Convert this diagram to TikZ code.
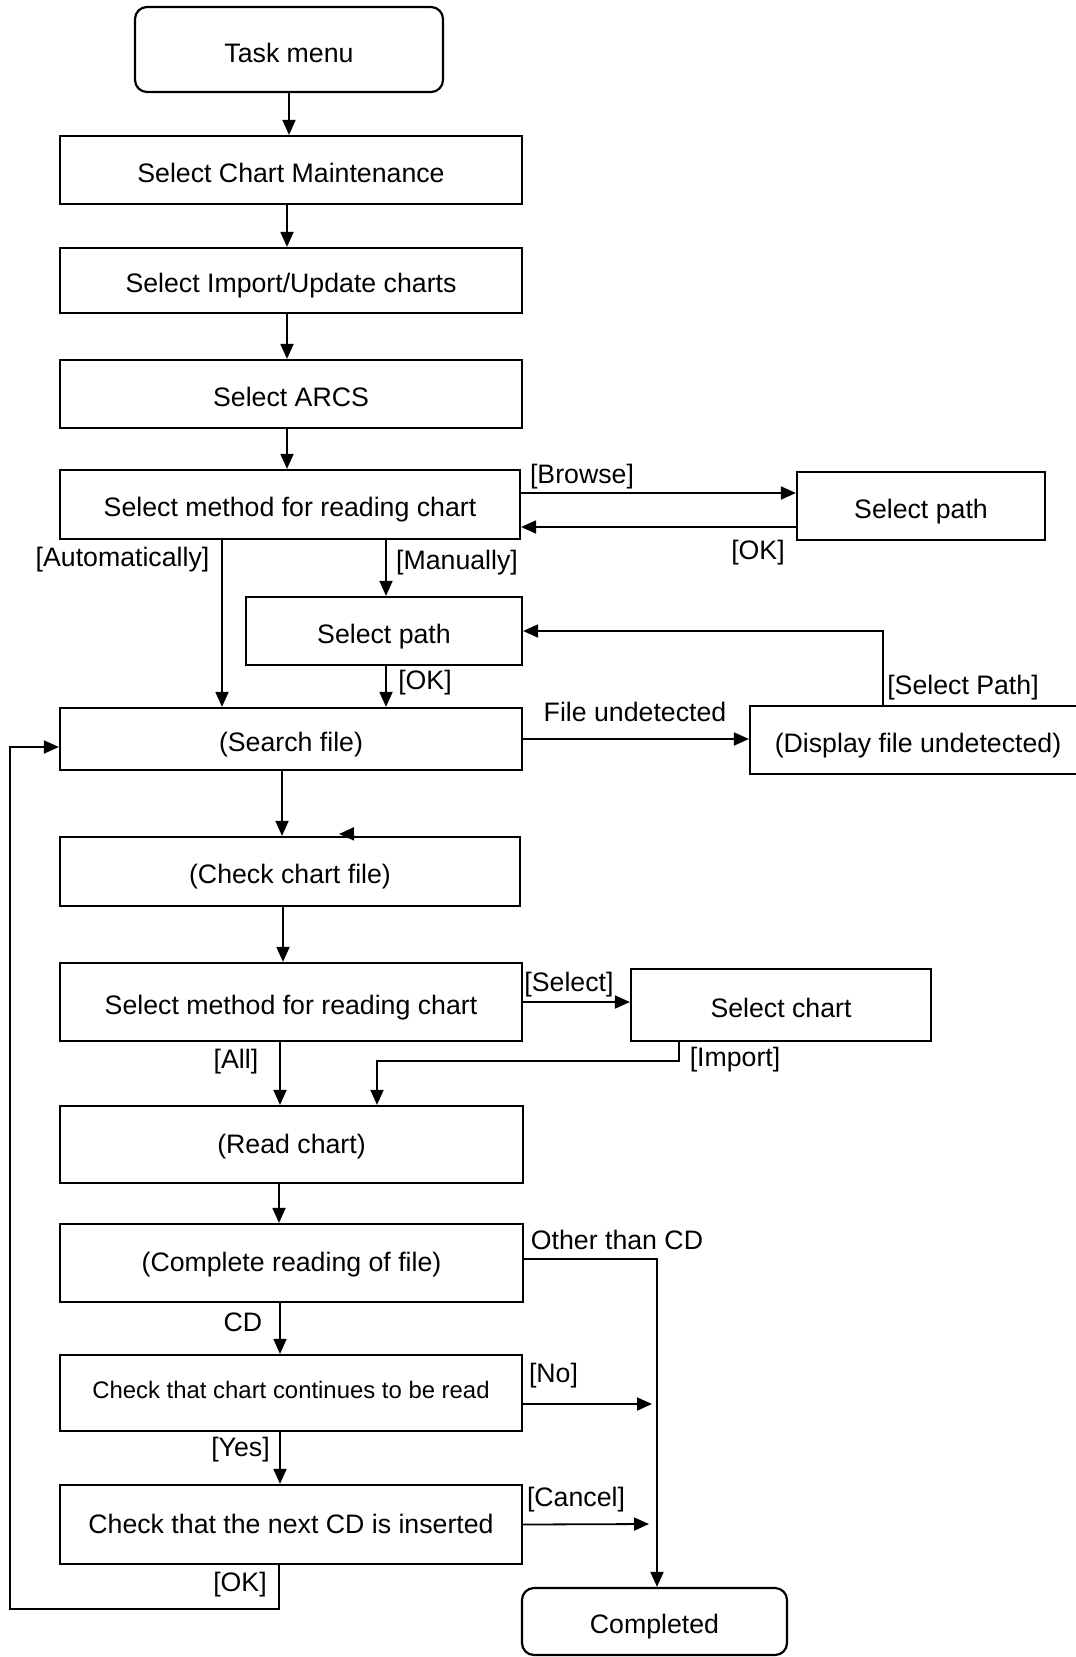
\documentclass[tikz,border=0pt]{standalone}
\usepackage{fontspec}
\setmainfont{Liberation Sans}
\usetikzlibrary{arrows.meta}

\begin{document}
\begin{tikzpicture}[x=1pt,y=-1pt,
  box/.style={draw,line width=2.2pt,inner sep=0pt,minimum width=462pt,text height=25.4pt,text depth=1.3pt,font=\fontsize{26.7}{32}\selectfont},
  lbl/.style={inner sep=0pt,font=\fontsize{26.7}{32}\selectfont},
  arr/.style={line width=1.8pt,-{Triangle[length=15pt,width=13pt]}}]
\clip (0,0) rectangle (1076,1657);

% main column
\node (tm) at (289,49.5) [box,rounded corners=12pt,minimum width=308pt,minimum height=85pt,text height=28pt] {Task menu};
\node (scm) at (291,170) [box,minimum height=68pt] {Select Chart Maintenance};
\node (siu) at (291,280.5) [box,minimum height=65pt] {Select Import/Update charts};
\node (sarcs) at (291,394) [box,minimum height=68pt] {Select ARCS};
\node (smr) at (290,504.5) [box,minimum width=460pt,minimum height=69pt] {Select method for reading chart};
\node (spb) at (921,506) [box,minimum width=248pt,minimum height=68pt] {Select path};
\node (spm) at (384,631) [box,minimum width=276pt,minimum height=68pt] {Select path};
\node (sf) at (291,739) [box,minimum height=62pt] {(Search file)};
\node (dfu) at (918,740) [box,minimum width=336pt,minimum height=68pt] {(Display file undetected)};
\node (ccf) at (290,871.5) [box,minimum width=460pt,minimum height=69pt] {(Check chart file)};
\node (smr2) at (291,1002) [box,minimum height=78pt] {Select method for reading chart};
\node (sc) at (781,1005) [box,minimum width=300pt,minimum height=72pt] {Select chart};
\node (rc) at (291.5,1144.5) [box,minimum width=463pt,minimum height=77pt,text height=19pt] {(Read chart)};
\node (crf) at (291.5,1263) [box,minimum width=463pt,minimum height=78pt,text height=19pt] {(Complete reading of file)};
\node (ccr) at (291,1393) [box,minimum height=76pt,text height=12.4pt,font=\fontsize{23.9}{29}\selectfont] {Check that chart continues to be read};
\node (cnc) at (291,1524.5) [box,minimum height=79pt,text height=19pt] {Check that the next CD is inserted};
\node (done) at (654.5,1621.5) [box,rounded corners=12pt,minimum width=265pt,minimum height=67pt] {Completed};

% free ends
\coordinate (no) at (652,1404);
\coordinate (cancel) at (649,1524);
\coordinate (back) at (10,1609);
\coordinate (stray) at (339,834);

% connectors
\draw [arr] (tm.south) -- (tm.south |- scm.north);
\draw [arr] ([xshift=-4pt]scm.south) -- ([xshift=-4pt]siu.north);
\draw [arr] ([xshift=-4pt]siu.south) -- ([xshift=-4pt]sarcs.north);
\draw [arr] ([xshift=-4pt]sarcs.south) -- ([xshift=-3pt]smr.north);
\draw [arr] ([yshift=11.5pt]smr.east) -- ([yshift=13pt]spb.west);
\draw [arr] ([yshift=-21pt]spb.west) -- ([yshift=-22.5pt]smr.east);
\draw [arr] ([xshift=-68pt]smr.south) -- ([xshift=-69pt]sf.north);
\draw [arr] ([xshift=96pt]smr.south) -- ([xshift=2pt]spm.north);
\draw [arr] ([xshift=2pt]spm.south) -- ([xshift=95pt]sf.north);
\draw [arr] (sf.east) -- (sf.east -| dfu.west);
\draw [arr] ([xshift=-35pt]dfu.north) |- (spm.east);
\draw [arr] ([xshift=-9pt]sf.south) -- ([xshift=-8pt]ccf.north);
\draw [arr] ([xshift=62pt,yshift=2pt]ccf.north) -- (stray);
\draw [arr] ([xshift=-7pt]ccf.south) -- ([xshift=-8pt]smr2.north);
\draw [arr] (smr2.east) -- (smr2.east -| sc.west);
\draw [arr] ([xshift=-11pt]smr2.south) -- ([xshift=-11.5pt]rc.north);
\draw [arr] ([xshift=-102pt]sc.south) -- ++(0,19) -| ([xshift=85.5pt]rc.north);
\draw [arr] ([xshift=-12.5pt]rc.south) -- ([xshift=-12.5pt]crf.north);
\draw [arr] ([yshift=4pt]crf.east) -| ([xshift=2.5pt]done.north);
\draw [arr] ([xshift=-11.5pt]crf.south) -- ([xshift=-11pt]ccr.north);
\draw [arr] ([yshift=-11pt]ccr.east) -- (no);
\draw [arr] ([xshift=-11pt]ccr.south) -- ([xshift=-11pt]cnc.north);
\draw [arr] (cnc.east) -- (cancel);
\draw [arr] ([xshift=-12pt]cnc.south) |- (back) |- ([yshift=-8pt]sf.west);

% labels
\node (lbrowse) at (582,476.5) [lbl] {[Browse]};
\node (lok1) at (758,553) [lbl] {[OK]};
\node (lauto) at (122.5,560) [lbl] {[Automatically]};
\node (lman) at (457,563) [lbl] {[Manually]};
\node (lok2) at (425,683) [lbl] {[OK]};
\node (lfu) at (635,712) [lbl] {File undetected};
\node (lsp) at (963,688) [lbl] {[Select Path]};
\node (lsel) at (569,985) [lbl] {[Select]};
\node (limp) at (735,1060) [lbl] {[Import]};
\node (lall) at (236,1062) [lbl] {[All]};
\node (lother) at (617,1240) [lbl] {Other than CD};
\node (lcd) at (243,1322) [lbl] {CD};
\node (lno) at (553.5,1376) [lbl] {[No]};
\node (lyes) at (240.5,1450) [lbl] {[Yes]};
\node (lcancel) at (576,1500) [lbl] {[Cancel]};
\node (lok3) at (240,1585) [lbl] {[OK]};

\end{tikzpicture}
\end{document}
